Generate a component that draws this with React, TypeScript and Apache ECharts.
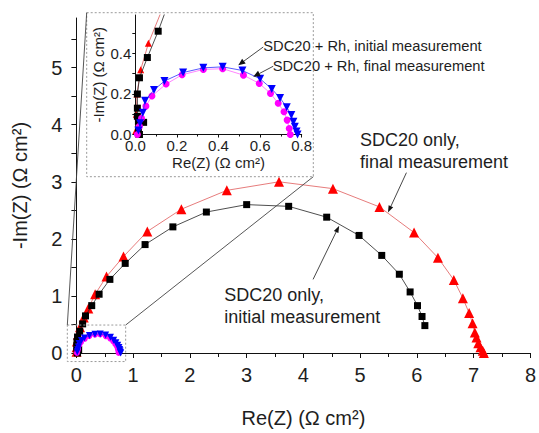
import React, { useEffect, useRef } from "react";
import * as echarts from "echarts";

const FONT = "'Liberation Sans', Arial, sans-serif";
const TXT = "#1e1e1e";

// SDC20 only, initial measurement (black squares) [Re, -Im]
const sdcInitial: number[][] = [
  [0.02, 0.0], [0.015, 0.02], [0.04, 0.06], [0.015, 0.065], [0.01, 0.09], [0.01, 0.13],
  [0.01, 0.2], [0.02, 0.28], [0.058, 0.38], [0.11, 0.51], [0.16, 0.65], [0.27, 0.83],
  [0.4, 1.03], [0.59, 1.29], [0.86, 1.57], [1.21, 1.9], [1.7, 2.21], [2.29, 2.47],
  [3.0, 2.6], [3.74, 2.57], [4.41, 2.38], [4.98, 2.06], [5.38, 1.71], [5.69, 1.38],
  [5.88, 1.07], [6.01, 0.83], [6.09, 0.64], [6.14, 0.48],
];
// SDC20 only, final measurement (red triangles)
const sdcFinal: number[][] = [
  [0.003, 0.02], [0.005, 0.1], [0.008, 0.2], [0.026, 0.32], [0.063, 0.45], [0.13, 0.62],
  [0.21, 0.78], [0.33, 1.03], [0.53, 1.34], [0.83, 1.69], [1.25, 2.13], [1.85, 2.52],
  [2.65, 2.85], [3.57, 3.0], [4.52, 2.88], [5.34, 2.56], [5.95, 2.11], [6.37, 1.67],
  [6.65, 1.28], [6.81, 0.96], [6.92, 0.7], [6.98, 0.52], [7.02, 0.36], [7.05, 0.27],
  [7.08, 0.17], [7.12, 0.1], [7.16, 0.04], [7.18, 0.0],
];
// SDC20 + Rh, initial measurement (blue inverted triangles)
const rhInitial: number[][] = [
  [0.015, 0.02], [0.023, 0.055], [0.036, 0.107], [0.047, 0.167], [0.09, 0.22], [0.14, 0.264],
  [0.23, 0.306], [0.327, 0.329], [0.42, 0.334], [0.515, 0.316], [0.6, 0.275], [0.656, 0.225],
  [0.696, 0.18], [0.728, 0.135], [0.75, 0.096], [0.76, 0.063], [0.767, 0.038], [0.775, 0.015],
  [0.78, 0.0],
];
// SDC20 + Rh, final measurement (magenta)
const rhFinal: number[][] = [
  [0.01, 0.0], [0.02, 0.04], [0.03, 0.08], [0.051, 0.14], [0.08, 0.19], [0.148, 0.249],
  [0.225, 0.295], [0.327, 0.321], [0.42, 0.325], [0.52, 0.293], [0.596, 0.252], [0.65, 0.203],
  [0.687, 0.154], [0.715, 0.112], [0.73, 0.071], [0.74, 0.03], [0.745, 0.0],
];

const mainXTicks = [0, 1, 2, 3, 4, 5, 6, 7, 8];
const mainYLabels = [0, 1, 2, 3, 4, 5];
const mainYTicks = [0, 0.5, 1, 1.5, 2, 2.5, 3, 3.5, 4, 4.5, 5, 5.5];
const insetYLabels = [0, 0.2, 0.4];
const insetYTicks = [0, 0.1, 0.2, 0.3, 0.4, 0.5];

// annotation anchors in data coordinates: [from, to]
const mainArrows: number[][][] = [
  [[5.815, 3.16], [5.49, 2.46]],
  [[4.17, 1.29], [4.63, 2.23]],
];
const insetArrows: number[][][] = [
  [[0.615, 0.432], [0.495, 0.342]],
  [[0.663, 0.337], [0.567, 0.285]],
];
const zoomBox = [[-0.16, 0.49], [0.868, -0.15]];

function mk(name: string, data: number[][], grid: number, sym: string, size: number, color: string, lineColor: string, rot = 0, z = 2) {
  return {
    type: "line", name, data, xAxisIndex: grid, yAxisIndex: grid,
    symbol: sym, symbolSize: size, symbolRotate: rot, showSymbol: true,
    itemStyle: { color }, lineStyle: { color: lineColor, width: 0.8 },
    z, clip: true, emphasis: { disabled: true },
  };
}

export default function App() {
  const ref = useRef<HTMLDivElement>(null);
  useEffect(() => {
    if (!ref.current) return;
    const chart = echarts.init(ref.current, null, { renderer: "svg" });
    const axisBase = (fs: number) => ({
      axisLine: { lineStyle: { color: "#111", width: 1 } },
      splitLine: { show: false },
      axisLabel: { color: TXT, fontSize: fs, fontFamily: FONT },
      nameTextStyle: { color: TXT, fontSize: fs, fontFamily: FONT },
    });
    const option: any = {
      animation: false,
      grid: [
        { left: 76.4, right: 8, top: 18, bottom: 79 },
        { left: 135.3, right: 237.3, top: 15, bottom: 298.5 },
      ],
      xAxis: [
        {
          ...axisBase(20), type: "value", gridIndex: 0, min: 0, max: 8, interval: 1,
          axisTick: { show: true, length: 5, inside: false, lineStyle: { color: "#111" } },
          minorTick: { show: true, splitNumber: 2, length: 4, lineStyle: { color: "#111" } },
          axisLabel: { color: TXT, fontSize: 20, fontFamily: FONT, margin: 12, formatter: (v: number) => (mainXTicks.includes(v) ? String(v) : "") },
          name: "Re(Z) (Ω cm²)", nameLocation: "middle", nameGap: 55,
        },
        {
          ...axisBase(15), type: "value", gridIndex: 1, min: 0, max: 0.8, interval: 0.2,
          axisTick: { show: true, length: 3, lineStyle: { color: "#111" } },
          minorTick: { show: true, splitNumber: 2, length: 2, lineStyle: { color: "#111" } },
          axisLabel: { color: TXT, fontSize: 15, fontFamily: FONT, margin: 3, formatter: (v: number) => v.toFixed(1) },
          name: "Re(Z) (Ω cm²)", nameLocation: "middle", nameGap: 20,
        },
      ],
      yAxis: [
        {
          ...axisBase(20), type: "value", gridIndex: 0, min: 0, max: 5.87,
          axisTick: { show: true, length: 5, customValues: mainYTicks, lineStyle: { color: "#111" } },
          axisLabel: { color: TXT, fontSize: 20, fontFamily: FONT, margin: 14, customValues: mainYLabels },
          name: "-Im(Z) (Ω cm²)", nameLocation: "middle", nameGap: 46,
        },
        {
          ...axisBase(15), type: "value", gridIndex: 1, min: 0, max: 0.59,
          axisTick: { show: true, length: 3, customValues: insetYTicks, lineStyle: { color: "#111" } },
          axisLabel: { color: TXT, fontSize: 15, fontFamily: FONT, margin: 4, customValues: insetYLabels, formatter: (v: number) => v.toFixed(1) },
          name: "-Im(Z) (Ω cm²)", nameLocation: "middle", nameGap: 29,
        },
      ],
      series: [
        mk("SDC20 only, final", sdcFinal, 0, "triangle", 10, "#ff0000", "#e05a5a"),
        mk("SDC20 only, initial", sdcInitial, 0, "rect", 7, "#000000", "#222222", 0, 3),
        mk("SDC20 + Rh, final", rhFinal, 0, "circle", 6, "#ff00ff", "#ff66ff", 0, 4),
        mk("SDC20 + Rh, initial", rhInitial, 0, "triangle", 7, "#0000ff", "#3030ff", 180, 5),
        mk("SDC20 only, final", sdcFinal, 1, "triangle", 7, "#ff0000", "#e05a5a"),
        mk("SDC20 only, initial", sdcInitial, 1, "rect", 7, "#000000", "#222222", 0, 3),
        mk("SDC20 + Rh, final", rhFinal, 1, "circle", 7, "#ff00ff", "#ff66ff", 0, 4),
        mk("SDC20 + Rh, initial", rhInitial, 1, "triangle", 8, "#0000ff", "#3030ff", 180, 5),
      ],
    };
    chart.setOption(option);

    const px = (g: number, p: number[]) => chart.convertToPixel({ gridIndex: g } as any, p) as number[];
    const arrow = (a: number[], b: number[], len: number, hw: number) => {
      const dx = b[0] - a[0], dy = b[1] - a[1];
      const L = Math.hypot(dx, dy); const ux = dx / L, uy = dy / L;
      const bx = b[0] - ux * len, by = b[1] - uy * len;
      return [
        { type: "line", z: 20, shape: { x1: a[0], y1: a[1], x2: bx, y2: by }, style: { stroke: "#333", lineWidth: 0.9 } },
        { type: "polygon", z: 20, shape: { points: [[b[0], b[1]], [bx - uy * hw, by + ux * hw], [bx + uy * hw, by - ux * hw]] }, style: { fill: "#111" } },
      ];
    };
    const g: any[] = [];
    mainArrows.forEach(([f, t]) => g.push(...arrow(px(0, f), px(0, t), 7, 2.5)));
    insetArrows.forEach(([f, t]) => g.push(...arrow(px(1, f), px(1, t), 7, 3)));
    const b0 = px(0, zoomBox[0]); const b1 = px(0, zoomBox[1]);
    g.push({ type: "rect", z: 15, shape: { x: b0[0], y: b0[1], width: b1[0] - b0[0], height: b1[1] - b0[1] }, style: { fill: "none", stroke: "#9a9a9a", lineWidth: 1, lineDash: [2, 2] } });
    const fx0 = 86.7, fy0 = 12.7, fx1 = 313.3, fy1 = 176.7;
    g.push({ type: "rect", z: 15, shape: { x: fx0, y: fy0, width: fx1 - fx0, height: fy1 - fy0 }, style: { fill: "none", stroke: "#9a9a9a", lineWidth: 1, lineDash: [2, 2] } });
    g.push({ type: "line", z: 15, shape: { x1: b0[0], y1: b0[1], x2: fx0, y2: fy0 }, style: { stroke: "#444", lineWidth: 0.9 } });
    g.push({ type: "line", z: 15, shape: { x1: b1[0], y1: b0[1], x2: fx1, y2: fy1 }, style: { stroke: "#444", lineWidth: 0.9 } });
    const txt = (s: string, x: number, y: number, fs: number) => ({ type: "text", z: 20, x, y, style: { text: s, fill: TXT, fontSize: fs, fontFamily: FONT, verticalAlign: "middle", align: "left" } });
    g.push(txt("SDC20 only,", 360, 140, 18));
    g.push(txt("final measurement", 360, 161.7, 18));
    g.push(txt("SDC20 only,", 224.3, 295, 18));
    g.push(txt("initial measurement", 224.3, 316.7, 18));
    g.push(txt("SDC20 + Rh, initial measurement", 263.3, 45.7, 14.7));
    g.push(txt("SDC20 + Rh, final measurement", 272.7, 65.7, 14.7));
    chart.setOption({ graphic: g });
    return () => chart.dispose();
  }, []);
  return <div ref={ref} style={{ position: "fixed", left: 0, top: 0, width: 539, height: 433, background: "#fff" }} />;
}
